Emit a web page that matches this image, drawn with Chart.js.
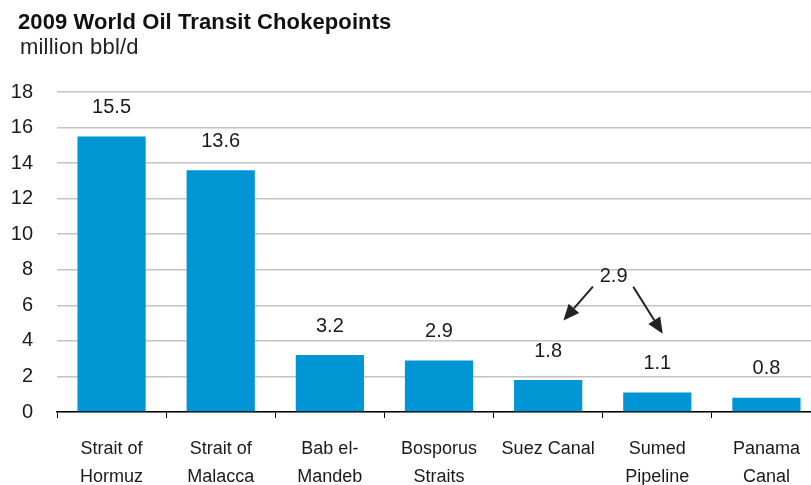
<!DOCTYPE html>
<html>
<head>
<meta charset="utf-8">
<script src="https://cdn.jsdelivr.net/npm/chart.js@4.4.1/dist/chart.umd.min.js"></script>
<style>
  html, body { margin: 0; padding: 0; background: #fff; overflow: hidden; }
  #wrap { position: relative; width: 811px; height: 485px; overflow: hidden; }
  #chartBox { position: absolute; left: 0; top: 0; width: 822px; height: 485px; }
  .title { position: absolute; left: 18px; top: 9px; font: bold 22px "Liberation Sans", Arial, sans-serif; color: #111; letter-spacing: 0.1px; line-height: 26px; }
  .subtitle { position: absolute; left: 20px; top: 34px; font: 22px "Liberation Sans", Arial, sans-serif; color: #222; letter-spacing: 0.2px; line-height: 26px; }
</style>
</head>
<body>
<div id="wrap">
  <div id="chartBox"><canvas id="chokeChart" width="822" height="485"></canvas></div>
  <div class="title">2009 World Oil Transit Chokepoints</div>
  <div class="subtitle">million bbl/d</div>
</div>
<script>
// data
const categories = [
  ["Strait of", "Hormuz"],
  ["Strait of", "Malacca"],
  ["Bab el-", "Mandeb"],
  ["Bosporus", "Straits"],
  ["Suez Canal"],
  ["Sumed", "Pipeline"],
  ["Panama", "Canal"]
];
const flows = [15.5, 13.6, 3.2, 2.9, 1.8, 1.1, 0.8];
const yMax = 18;
const yStep = 2;

// combined Suez + Sumed note, placed in data units (category index, value)
const combinedLabel = "2.9";
const combinedAt = [4.6, 7.6];
const arrows = [
  { from: [4.41, 7.05], to: [4.14, 5.15] },
  { from: [4.78, 7.05], to: [5.05, 4.4] }
];

const barColor = "#0096D6";
const textColor = "#1a1a1a";
const fontFamily = '"Liberation Sans", Arial, sans-serif';

// draw value labels above bars + the arrow note
const notesPlugin = {
  id: "notes",
  afterDatasetsDraw(chart) {
    const ctx = chart.ctx;
    const x = chart.scales.x;
    const y = chart.scales.y;
    ctx.save();
    ctx.fillStyle = textColor;
    ctx.font = "20px " + fontFamily;
    ctx.textAlign = "center";
    ctx.textBaseline = "middle";
    flows.forEach((v, i) => {
      ctx.fillText(v.toFixed(1), x.getPixelForValue(i), y.getPixelForValue(v) - 29);
    });

    ctx.fillText(combinedLabel, x.getPixelForValue(combinedAt[0]), y.getPixelForValue(combinedAt[1]));

    ctx.strokeStyle = "#222";
    ctx.fillStyle = "#222";
    ctx.lineWidth = 2;
    arrows.forEach(a => {
      const x1 = x.getPixelForValue(a.from[0]), y1 = y.getPixelForValue(a.from[1]);
      const x2 = x.getPixelForValue(a.to[0]), y2 = y.getPixelForValue(a.to[1]);
      const ang = Math.atan2(y2 - y1, x2 - x1);
      const head = 16, half = 7;
      const bx = x2 - head * Math.cos(ang), by = y2 - head * Math.sin(ang);
      ctx.beginPath();
      ctx.moveTo(x1, y1);
      ctx.lineTo(bx, by);
      ctx.stroke();
      ctx.beginPath();
      ctx.moveTo(x2, y2);
      ctx.lineTo(bx + half * Math.sin(ang), by - half * Math.cos(ang));
      ctx.lineTo(bx - half * Math.sin(ang), by + half * Math.cos(ang));
      ctx.closePath();
      ctx.fill();
    });
    ctx.restore();
  }
};

new Chart(document.getElementById("chokeChart"), {
  type: "bar",
  data: {
    labels: categories,
    datasets: [{
      data: flows,
      backgroundColor: barColor,
      borderWidth: 0,
      categoryPercentage: 1,
      barPercentage: 0.625
    }]
  },
  options: {
    responsive: false,
    animation: false,
    layout: { padding: { top: 92, right: 1, left: 0, bottom: 0 } },
    plugins: {
      legend: { display: false },
      tooltip: { enabled: false }
    },
    scales: {
      x: {
        grid: {
          offset: true,
          drawOnChartArea: false,
          drawTicks: true,
          tickLength: 6,
          color: "#000"
        },
        border: { display: true, color: "#000", width: 1.5 },
        ticks: {
          color: textColor,
          font: { family: fontFamily, size: 18, lineHeight: 1.55 },
          padding: 17,
          maxRotation: 0,
          autoSkip: false
        },
        afterFit(scale) { scale.height = 73; }
      },
      y: {
        min: 0,
        max: yMax,
        grid: {
          color: "#c4c4c4",
          lineWidth: 1.5,
          drawTicks: false
        },
        border: { display: false },
        ticks: {
          stepSize: yStep,
          color: textColor,
          font: { family: fontFamily, size: 20 },
          padding: 24
        },
        afterFit(scale) { scale.width = 57; }
      }
    }
  },
  plugins: [notesPlugin]
});
</script>
</body>
</html>
